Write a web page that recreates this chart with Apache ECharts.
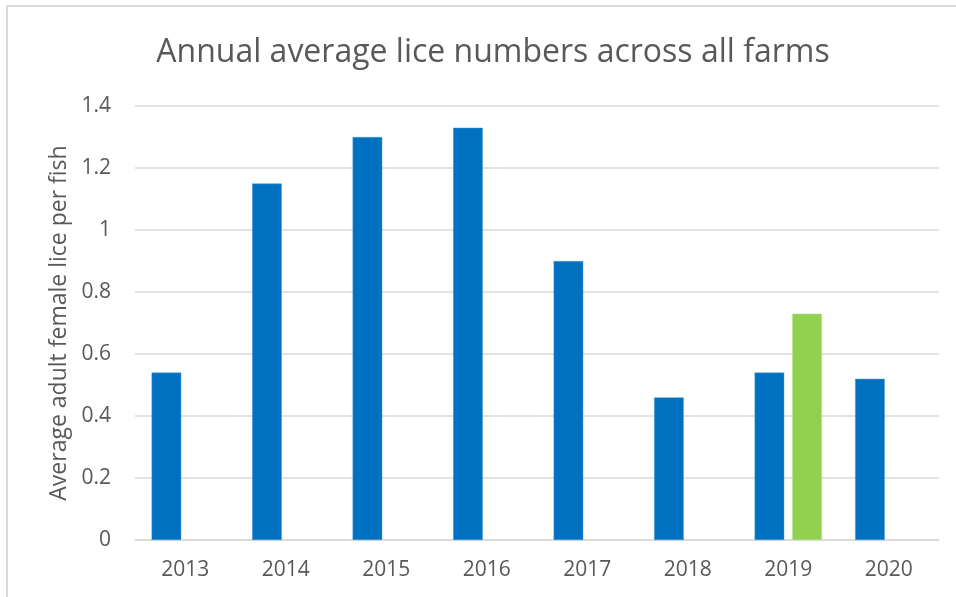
<!DOCTYPE html>
<html>
<head>
<meta charset="utf-8">
<script src="https://cdn.jsdelivr.net/npm/echarts@6/dist/echarts.min.js"></script>
<style>
html,body{margin:0;padding:0;background:#fff;}
#chart{width:956px;height:597px;}
</style>
</head>
<body>
<div id="chart"></div>
<script>
const titleText = 'Annual average lice numbers across all farms';
const yAxisName = 'Average adult female lice per fish';
const categories = ['2013','2014','2015','2016','2017','2018','2019','2020'];
const blueValues = [0.54, 1.15, 1.30, 1.33, 0.90, 0.46, 0.54, 0.52];
const greenValues = [null, null, null, null, null, null, 0.73, null];

const chart = echarts.init(document.getElementById('chart'), null, {renderer:'canvas'});
const fontFam = '"Open Sans", "Noto Sans", sans-serif';
chart.setOption({
  animation: false,
  backgroundColor: '#fff',
  title: {
    text: titleText,
    left: 488, top: 32, textAlign: 'center',
    textStyle: {color: '#595959', fontSize: 32, fontWeight: 'normal', fontFamily: fontFam}
  },
  graphic: [{
    type: 'rect',
    shape: {x: 7, y: 6, width: 1000, height: 700},
    style: {fill: 'none', stroke: '#d9d9d9', lineWidth: 2},
    silent: true
  }],
  grid: {left: 135, right: 17, top: 106, bottom: 57, containLabel: false},
  xAxis: {
    type: 'category',
    data: categories,
    axisLine: {show: true, lineStyle: {color: '#d9d9d9', width: 1.5}},
    axisTick: {show: false},
    axisLabel: {color: '#595959', fontSize: 21, fontFamily: fontFam, margin: 20}
  },
  yAxis: {
    type: 'value',
    min: 0, max: 1.4, interval: 0.2,
    name: yAxisName,
    nameLocation: 'middle',
    nameGap: 62,
    nameTextStyle: {color: '#595959', fontSize: 23, fontFamily: fontFam},
    axisLine: {show: false},
    axisTick: {show: false},
    splitLine: {lineStyle: {color: '#d9d9d9', width: 1.5}},
    axisLabel: {
      color: '#595959', fontSize: 21, fontFamily: fontFam, margin: 24,
      formatter: function(v){ return String(Math.round(v*10)/10); }
    }
  },
  series: [
    {
      type: 'bar', data: blueValues, barWidth: '29.5%', barGap: '27%',
      itemStyle: {color: '#0070C0', borderColor: '#4f9fd8', borderWidth: 0.5}
    },
    {
      type: 'bar', data: greenValues, barWidth: '29.5%',
      itemStyle: {color: '#92D050', borderColor: '#b5e08a', borderWidth: 0.5}
    }
  ]
});
</script>
</body>
</html>
